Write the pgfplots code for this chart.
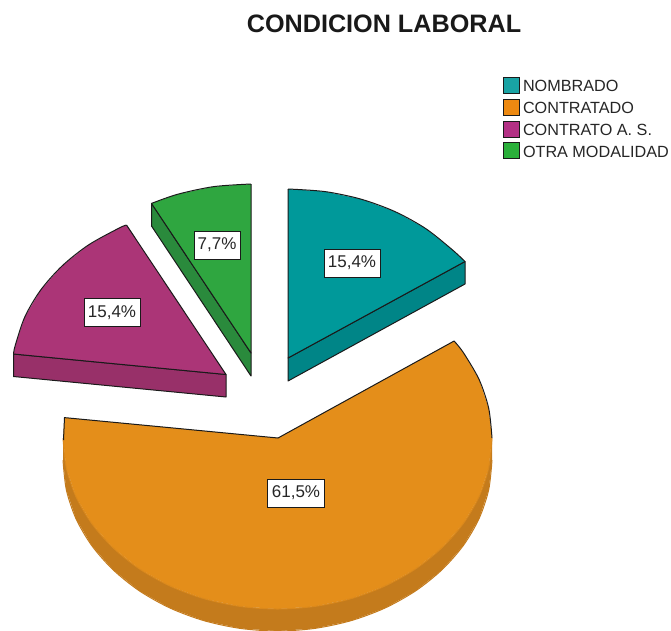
\documentclass[border=0pt]{standalone}
\usepackage{pgfplots}
\pgfplotsset{compat=1.18}
\usepackage{fontspec}
\setmainfont{Liberation Sans}
\definecolor{tealtop}{HTML}{00999A}
\definecolor{tealwall}{HTML}{008587}
\definecolor{orangetop}{HTML}{E48E1A}
\definecolor{orangewall}{HTML}{C47B1C}
\definecolor{magentatop}{HTML}{AB3577}
\definecolor{magentawall}{HTML}{983069}
\definecolor{greentop}{HTML}{2FA640}
\definecolor{greenwall}{HTML}{2A8A3C}
\definecolor{edge}{HTML}{1A1A1A}
\begin{document}
\begin{tikzpicture}
\begin{axis}[
  hide axis, scale only axis, width=671pt, height=630pt,
  xmin=0, xmax=671, ymin=0, ymax=630, y dir=reverse,
  legend style={at={(axis cs:503,76.7)}, anchor=north west, draw=none, fill=none,
    inner sep=0pt, outer sep=0pt, row sep=4.9pt,
    /tikz/every odd column/.append style={column sep=3pt},
    font=\fontsize{16.2}{16.2}\selectfont, text=black!85,
    nodes={inner sep=0pt, outer sep=0pt, text height=12pt, text depth=2pt}},
  legend cell align=left,
  legend image code/.code={\draw[#1, draw=edge, line width=1pt] (0pt,-6.8pt) rectangle (16pt,9.2pt);},
]
% legend swatches
\addlegendimage{fill=tealtop!90!white}
\addlegendentry{NOMBRADO}
\addlegendimage{fill=orange!35!orangetop}
\addlegendentry{CONTRATADO}
\addlegendimage{fill=magentatop!90!magenta}
\addlegendentry{CONTRATO A. S.}
\addlegendimage{fill=greentop!90!green}
\addlegendentry{OTRA MODALIDAD}

% picture extent
\draw[draw=none] (rel axis cs:0,0) rectangle (rel axis cs:1,1);

% orange slice (61.5 %), side wall then top face
\addplot[forget plot, fill=orangewall, draw=none] coordinates {
 (492,438) (488.7,467.7) (479.1,496.5) (463.3,523.5) (441.8,547.9) (415.4,569) (384.8,586.1)
 (350.9,598.7) (314.7,606.4) (277.5,609) (240.3,606.4) (204.1,598.7) (170.2,586.1) (139.6,569)
 (113.2,547.9) (91.7,523.5) (75.9,496.5) (66.3,467.7) (63,438)
 (63,460) (66.3,489.7) (75.9,518.5) (91.7,545.5) (113.2,569.9) (139.6,591) (170.2,608.1)
 (204.1,620.7) (240.3,628.4) (277.5,631) (314.7,628.4) (350.9,620.7) (384.8,608.1) (415.4,591)
 (441.8,569.9) (463.3,545.5) (479.1,518.5) (488.7,489.7) (492,460)} -- cycle;
\addplot[forget plot, smooth, draw=orangewall, line width=1pt] coordinates {
 (63,460) (66.3,489.7) (75.9,518.5) (91.7,545.5) (113.2,569.9) (139.6,591) (170.2,608.1)
 (204.1,620.7) (240.3,628.4) (277.5,631) (314.7,628.4) (350.9,620.7) (384.8,608.1) (415.4,591)
 (441.8,569.9) (463.3,545.5) (479.1,518.5) (488.7,489.7) (492,460)};
\addplot[forget plot, fill=orangetop, draw=none] coordinates {
 (278,438) (454.1,341) (463.3,352.5) (479.1,379.5) (488.7,408.3) (492,438) (488.7,467.7)
 (479.1,496.5) (463.3,523.5) (441.8,547.9) (415.4,569) (384.8,586.1) (350.9,598.7) (314.7,606.4)
 (277.5,609) (240.3,606.4) (204.1,598.7) (170.2,586.1) (139.6,569) (113.2,547.9) (91.7,523.5)
 (75.9,496.5) (66.3,467.7) (63,438) (64.5,417.6)} -- cycle;
\addplot[forget plot, smooth, draw=orangetop!70!orangewall, line width=1pt] coordinates {
 (492,438) (488.7,467.7) (479.1,496.5) (463.3,523.5) (441.8,547.9) (415.4,569) (384.8,586.1)
 (350.9,598.7) (314.7,606.4) (277.5,609) (240.3,606.4) (204.1,598.7) (170.2,586.1) (139.6,569)
 (113.2,547.9) (91.7,523.5) (75.9,496.5) (66.3,467.7) (63,438)};
\addplot[forget plot, draw=edge, line width=1pt, line join=round] coordinates {
 (63.5,440) (64.5,417.6) (278,438) (454.1,341)};
\addplot[forget plot, smooth, draw=edge, line width=1pt] coordinates {
 (454.1,341) (463.3,352.5) (479.1,379.5) (488.7,408.3) (492,438)};

% teal slice (15.4 %)
\addplot[forget plot, fill=tealwall, draw=edge, line width=1pt, line join=round] coordinates {
 (288,358) (465,261.5) (465,284) (288,381)} -- cycle;
\addplot[forget plot, fill=tealtop, draw=none] coordinates {
 (288,358) (288,189) (325.2,191.6) (361.2,199.2) (395,211.6) (425.6,228.5) (451.9,249.4) (465,261.5)} -- cycle;
\addplot[forget plot, smooth, draw=edge, line width=1pt] coordinates {
 (288,189) (325.2,191.6) (361.2,199.2) (395,211.6) (425.6,228.5) (451.9,249.4) (465,261.5)};
\addplot[forget plot, draw=edge, line width=1pt, line join=round] coordinates {
 (288,189) (288,358) (465,261.5)};

% magenta slice (15.4 %)
\addplot[forget plot, fill=magentawall, draw=edge, line width=1pt, line join=round] coordinates {
 (13.5,354) (226,374.5) (226,397) (13.5,376.5)} -- cycle;
\addplot[forget plot, fill=magentatop, draw=none] coordinates {
 (226,374.5) (126.5,225) (119,228.1) (88.4,245) (62.1,265.9) (40.7,290) (24.9,316.7) (15.3,345.2) (13.5,354)} -- cycle;
\addplot[forget plot, smooth, draw=edge, line width=1pt] coordinates {
 (126.5,225) (119,228.1) (88.4,245) (62.1,265.9) (40.7,290) (24.9,316.7) (15.3,345.2) (13.5,354)};
\addplot[forget plot, draw=edge, line width=1pt, line join=round] coordinates {
 (126.5,225) (226,374.5) (13.5,354)};

% green slice (7.7 %)
\addplot[forget plot, fill=greenwall, draw=edge, line width=1pt, line join=round] coordinates {
 (151.5,203.4) (251,353) (251,376) (151.5,226)} -- cycle;
\addplot[forget plot, fill=greentop, draw=none] coordinates {
 (251,353) (251,184) (213.8,186.6) (177.8,194.2) (151.5,203.4)} -- cycle;
\addplot[forget plot, smooth, draw=edge, line width=1pt] coordinates {
 (251,184) (213.8,186.6) (177.8,194.2) (151.5,203.4)};
\addplot[forget plot, draw=edge, line width=1pt, line join=round] coordinates {
 (151.5,203.4) (251,353) (251,184)};

% percentage labels
\tikzset{pct/.style={draw=edge, fill=white, line width=1pt, inner sep=0pt, minimum height=28pt,
  font=\fontsize{17}{17}\selectfont, text=black!85}}
\node[pct, minimum width=56pt] at (axis cs:352,263) {15,4\%};
\node[pct, minimum width=57pt] at (axis cs:296,493) {61,5\%};
\node[pct, minimum width=56pt] at (axis cs:112,312.5) {15,4\%};
\node[pct, minimum width=46pt] at (axis cs:217,245) {7,7\%};

% chart title
\node[font=\bfseries\fontsize{25.2}{25.2}\selectfont, text=black!90] at (axis cs:384,24) {CONDICION LABORAL};
\end{axis}
\end{tikzpicture}
\end{document}
